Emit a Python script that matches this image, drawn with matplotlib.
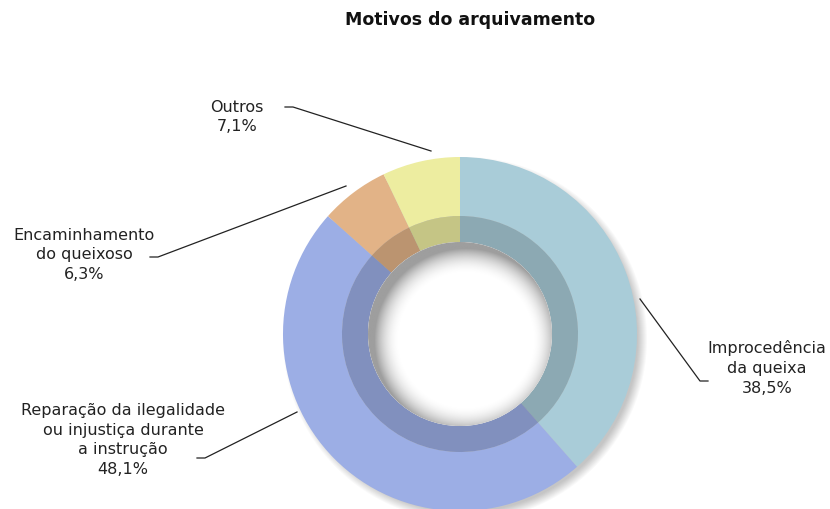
import numpy as np
import matplotlib.pyplot as plt
from matplotlib.patches import Circle

plt.rcParams['font.family'] = ['DejaVu Sans']

# data
labels = ['Improcedência\nda queixa', 'Reparação da ilegalidade\nou injustiça durante\na instrução',
          'Encaminhamento\ndo queixoso', 'Outros']
values = [38.5, 48.1, 6.3, 7.1]
colors = ['#a9ccd8', '#9caee5', '#e2b387', '#ededa0']
title = 'Motivos do arquivamento'

# layout (pixel coordinates, y down)
cx, cy = 460, 335
r_out, r_band, r_in = 177, 118, 92
label_pos = [(767, 368), (123, 440), (84, 255), (237, 117)]
leader_start = [(640, 300), (297, 413), (346, 187), (431, 152)]
leader_end = [(708, 382), (197, 459), (150, 258), (285, 108)]
leader_side = [-1, 1, 1, 1]

fig = plt.figure(figsize=(8.3, 5.1), dpi=100)
ax = fig.add_axes([0, 0, 1, 1])

# soft drop shadow
for k in range(10):
    ax.add_patch(Circle((cx + 5, cy + 5), r_out + 5 - k, color='black', alpha=0.025, lw=0, zorder=0))

ax.pie(values, colors=colors, startangle=-90, counterclock=True, radius=r_out,
       center=(cx, cy), wedgeprops=dict(width=r_out - r_band, linewidth=0), frame=True)
ax.pie(values, colors=colors, startangle=-90, counterclock=True, radius=r_band,
       center=(cx, cy), wedgeprops=dict(width=r_band - r_in, linewidth=0), frame=True)
ax.pie(values, colors=['black'] * 4, startangle=-90, counterclock=True, radius=r_band,
       center=(cx, cy), wedgeprops=dict(width=r_band - r_in, linewidth=0, alpha=0.17), frame=True)

# hole with a soft inner shadow (shading image clipped to the hole)
hole = Circle((cx, cy), r_in, facecolor='white', lw=0, zorder=3)
ax.add_patch(hole)
gx, gy = np.meshgrid(np.arange(cx - r_in, cx + r_in + 1), np.arange(cy - r_in, cy + r_in + 1))
d = np.hypot(gx - (cx + 6), gy - (cy + 6))
shade = np.clip((d - (r_in - 26)) / 26, 0, 1) ** 2
img = ax.imshow(1 - 0.38 * shade, cmap='gray', vmin=0, vmax=1, zorder=4, interpolation='bilinear',
                extent=(cx - r_in, cx + r_in, cy + r_in, cy - r_in))
img.set_clip_path(hole)

ax.set_xlim(0, 830)
ax.set_ylim(510, 0)
ax.set_aspect('equal')
ax.axis('off')

for lab, v, (lx, ly), (sx, sy), (ex, ey), side in zip(labels, values, label_pos, leader_start,
                                                      leader_end, leader_side):
    txt = lab + '\n' + f'{v:.1f}'.replace('.', ',') + '%'
    ax.text(lx, ly, txt, ha='center', va='center', fontsize=11.5, color='#222222', linespacing=1.4)
    ax.plot([sx, ex + 8 * side, ex], [sy, ey, ey], color='#222222', lw=0.9)

ax.text(470, 20, title, ha='center', va='center', fontsize=12.5, fontweight='bold', color='#111111')

fig.savefig('out.png', dpi=100)
